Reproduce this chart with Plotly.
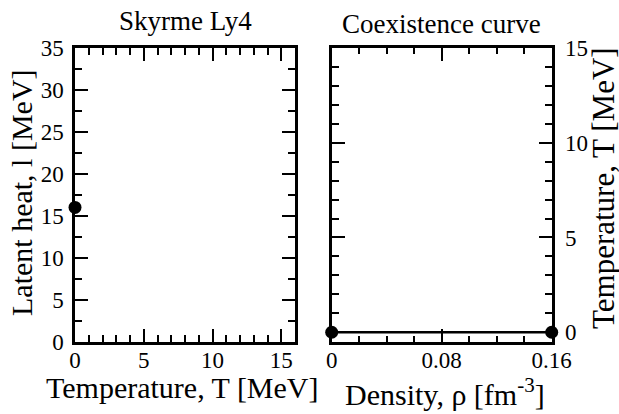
import plotly.graph_objects as go

# Data
latent_T = [0]
latent_heat = [16]
coex_density = [0, 0.16]
coex_T = [0, 0]

# Axis settings
left_x_range, left_y_range = [0, 16], [0, 35]
right_x_range, right_y_range = [0, 0.16], [-0.5, 15]

W, H = 619, 414
FONT = "Liberation Serif, Times New Roman, serif"

def px(x):
    return x / W

def py(y):
    return (H - y) / H

fig = go.Figure()
fig.add_trace(go.Scatter(x=latent_T, y=latent_heat, mode="markers",
                         marker=dict(color="black", size=13),
                         cliponaxis=False, xaxis="x", yaxis="y"))
fig.add_trace(go.Scatter(x=coex_density, y=coex_T, mode="lines+markers",
                         line=dict(color="black", width=2.5),
                         marker=dict(color="black", size=13),
                         cliponaxis=False, xaxis="x2", yaxis="y2"))

common = dict(showgrid=False, zeroline=False, showline=True, linecolor="black",
              linewidth=2.5, mirror=True, ticks="inside", tickwidth=2,
              tickcolor="black", ticklen=13, automargin=False,
              tickfont=dict(family=FONT, size=23, color="black"))
ghost = dict(showgrid=False, zeroline=False, showline=False, ticks="inside",
             tickwidth=2, tickcolor="black", ticklen=13, automargin=False,
             showticklabels=False)

def minor(d, ln=7):
    return dict(dtick=d, ticks="inside", ticklen=ln, tickwidth=2, tickcolor="black")

y_top, y_bot = 48, 341.7
LX = [px(75), px(295)]
RX = [px(331.7), px(551.7)]
YD = [py(y_bot), py(y_top)]
fig.update_layout(
    width=W, height=H, margin=dict(l=0, r=0, t=0, b=0, autoexpand=False),
    paper_bgcolor="white", plot_bgcolor="white", showlegend=False,
    font=dict(family=FONT, color="black"),
    xaxis=dict(domain=LX, range=left_x_range, dtick=5, tick0=0,
               anchor="y", ticklabelstandoff=-4, minor=minor(1), **common),
    yaxis=dict(domain=YD, range=left_y_range, dtick=5, tick0=0,
               anchor="x", ticklabelstandoff=4, minor=minor(2.5), **common),
    xaxis2=dict(domain=RX, range=right_x_range, dtick=0.08, tick0=0,
                anchor="y2", ticklabelstandoff=-4, minor=minor(0.02, 6), **common),
    yaxis2=dict(domain=YD, range=right_y_range, dtick=5, tick0=0,
                anchor="x2", side="right", ticklabelstandoff=6, minor=minor(1), **common),
    # mirrored tick sets (top / opposite side)
    xaxis3=dict(overlaying="x", anchor="y", side="top", range=left_x_range,
                dtick=5, tick0=0, minor=minor(1), **ghost),
    yaxis3=dict(overlaying="y", anchor="x", side="right", range=left_y_range,
                dtick=5, tick0=0, minor=minor(2.5), **ghost),
    xaxis4=dict(overlaying="x2", anchor="y2", side="top", range=right_x_range,
                dtick=0.08, tick0=0, minor=minor(0.02, 6), **ghost),
    yaxis4=dict(overlaying="y2", anchor="x2", side="left", range=right_y_range,
                dtick=5, tick0=0, minor=minor(1), **ghost),
)

# invisible anchor traces so the mirrored tick axes are drawn
fig.add_trace(go.Scatter(x=[None], y=[None], xaxis="x3", yaxis="y3", hoverinfo="skip"))
fig.add_trace(go.Scatter(x=[None], y=[None], xaxis="x4", yaxis="y4", hoverinfo="skip"))

def ann(text, x, y, size, angle=0):
    fig.add_annotation(text=text, x=px(x), y=py(y), xref="paper", yref="paper",
                       showarrow=False, textangle=angle, xanchor="center", yanchor="middle",
                       font=dict(family=FONT, size=size, color="black"))

ann("Skyrme Ly4", 185, 21, 27)
ann("Coexistence curve", 441.5, 24, 27)
ann("Temperature, T [MeV]", 182, 387, 30)
ann("Density, ρ [fm<sup>-3</sup>]", 445, 392, 30)
ann("Latent heat, l [MeV]", 22, 193, 30, -90)
ann("Temperature, T [MeV]", 603, 188, 31, -90)

fig.write_html("out.html")
